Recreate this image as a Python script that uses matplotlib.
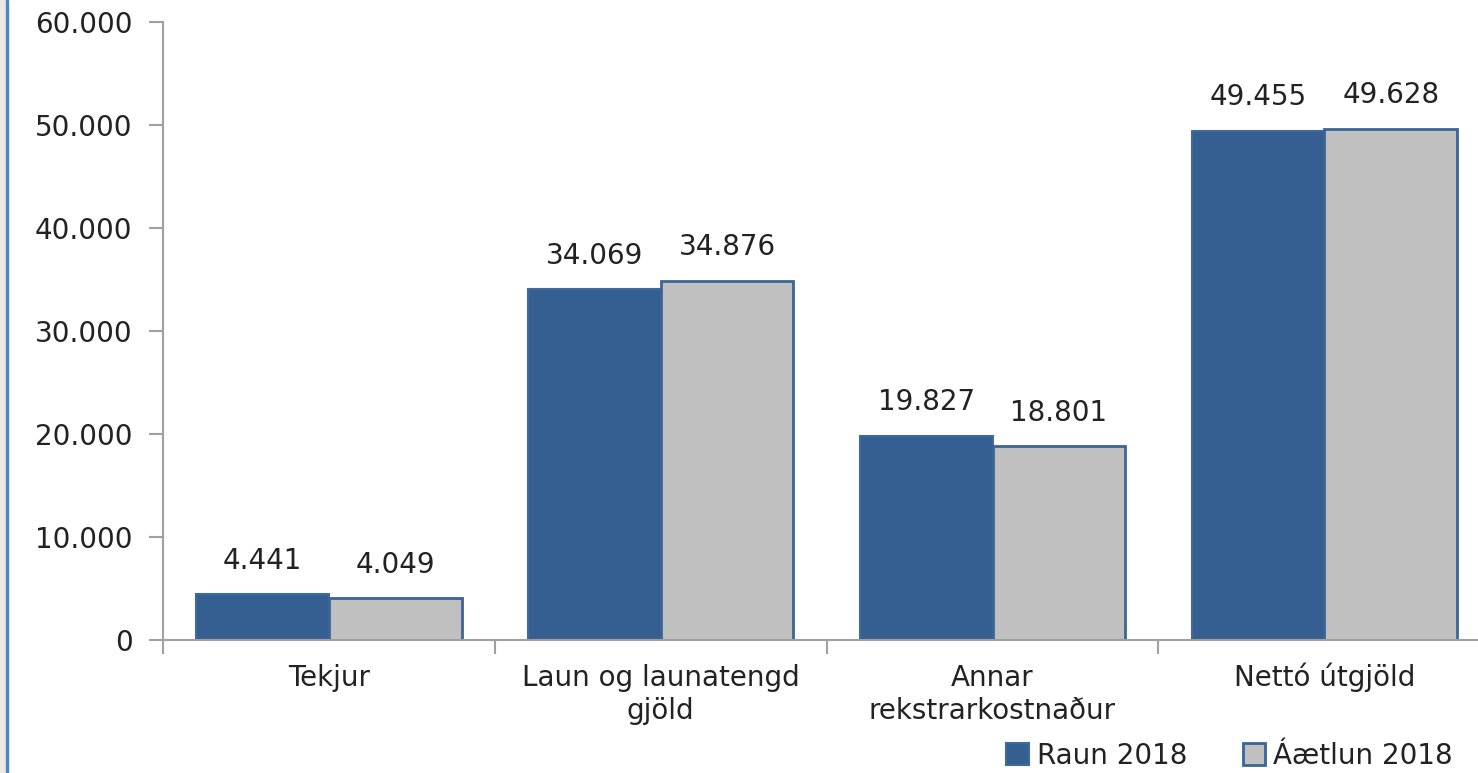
import numpy as np
import matplotlib.pyplot as plt
from matplotlib.ticker import FuncFormatter, FixedLocator
from matplotlib.patches import Rectangle

# Gögn
flokkar = ['Tekjur', 'Laun og launatengd\ngjöld', 'Annar\nrekstrarkostnaður', 'Nettó útgjöld']
raun_2018 = [4441, 34069, 19827, 49455]
aaetlun_2018 = [4049, 34876, 18801, 49628]

dark_blue = '#365F91'
grey = '#C0C0C0'
edge_blue = '#3A6595'
txt = '#222222'
fs = 20


def punktur(v, pos=None):
    return f"{v:,.0f}".replace(",", ".")


plt.rcParams['font.family'] = ['DejaVu Sans']

fig = plt.figure(figsize=(14.78, 7.73), dpi=100)
ax = fig.add_axes([0.1103, 0.172, 0.898, 0.7995])

x = np.arange(len(flokkar))
w = 0.4
b1 = ax.bar(x - w / 2, raun_2018, w, color=dark_blue, edgecolor='#3F6A9C', linewidth=1.5, label='Raun 2018')
b2 = ax.bar(x + w / 2, aaetlun_2018, w, color=grey, edgecolor=edge_blue, linewidth=2, label='Áætlun 2018')

for bars in (b1, b2):
    for rect in bars:
        h = rect.get_height()
        ax.annotate(punktur(h), (rect.get_x() + rect.get_width() / 2, h),
                    xytext=(0, 14), textcoords='offset points',
                    ha='center', va='bottom', fontsize=fs, color=txt)

ax.set_xlim(-0.5, 3.5)
ax.set_ylim(0, 60000)
ax.set_yticks(np.arange(0, 60001, 10000))
ax.yaxis.set_major_formatter(FuncFormatter(punktur))

# strik á mörkum flokka, merki í miðju (hver lína sett á sína grunnlínu)
ax.xaxis.set_major_locator(FixedLocator(np.arange(-0.5, 4.0, 1.0)))
ax.set_xticklabels([])
ax.tick_params(axis='x', which='major', length=10, color='#A0A0A0', width=1.5)
for xi, name in zip(x, flokkar):
    for j, line in enumerate(name.split('\n')):
        ax.text(xi, -0.0744 - j * 0.0534, line, transform=ax.get_xaxis_transform(),
                ha='center', va='baseline', fontsize=fs, color=txt)

ax.tick_params(axis='y', length=10, color='#A0A0A0', width=1.5, labelsize=fs,
               labelcolor=txt, pad=12)

for s in ('top', 'right'):
    ax.spines[s].set_visible(False)
for s in ('left', 'bottom'):
    ax.spines[s].set_color('#A0A0A0')
    ax.spines[s].set_linewidth(1.5)

ax.legend(loc='lower right', bbox_to_anchor=(1.0, -0.028), bbox_transform=fig.transFigure,
          ncol=2, frameon=False, fontsize=fs, handlelength=0.8, handleheight=0.8,
          handletextpad=0.3, columnspacing=2.0, labelcolor=txt)

# rammi vinstra megin
fig.patches.append(Rectangle((0, 0), 0.004, 1, transform=fig.transFigure, color='#ECE9E6', zorder=0))
fig.patches.append(Rectangle((0.004, 0), 0.0015, 1, transform=fig.transFigure, color='#4A86C8', zorder=0))

fig.savefig('out.png', dpi=100)
